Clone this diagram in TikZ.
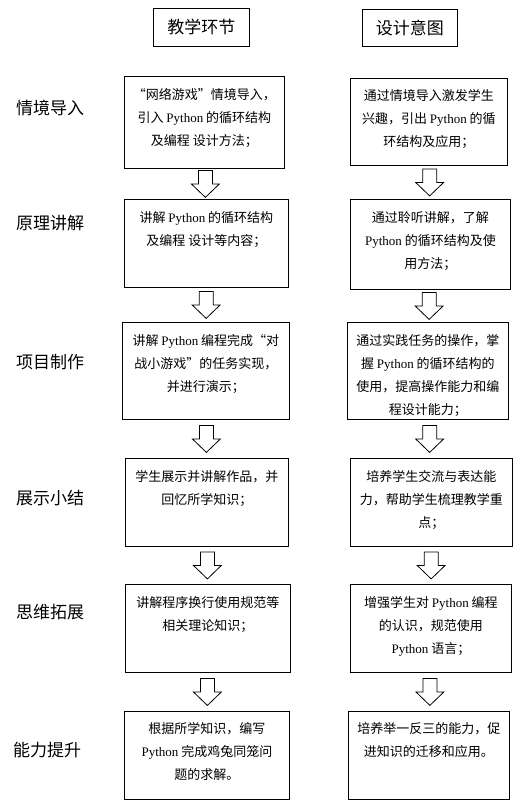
\documentclass[tikz,border=0pt]{standalone}
\usepackage{fontspec}
\setmainfont{Noto Sans CJK SC}
\newfontfamily\latfont{Liberation Serif}
\usetikzlibrary{calc}
\newcommand{\Py}{{\latfont Python}}
\tikzset{
  box/.style={draw, line width=0.8pt, inner sep=0pt, anchor=north west, fill=white},
  txt/.style={font=\fontsize{13}{23}\selectfont, align=center, inner sep=0pt, anchor=north},
  stage/.style={font=\fontsize{17}{20}\selectfont, anchor=west, inner sep=0pt},
  headbox/.style={draw, line width=0.8pt, font=\fontsize{17}{20}\selectfont, inner sep=0pt, anchor=north west},
  blockarrow/.pic={\draw[line width=0.8pt, fill=white] (-7,-13.5) -- (-7,0) -- (-14,0) -- (0,13.5) -- (14,0) -- (7,0) -- (7,-13.5) -- cycle;}
}
\begin{document}
\begin{tikzpicture}[x=1pt,y=-1pt]
\useasboundingbox (0,0) rectangle (526,807);
% headers
\node[headbox, minimum width=96pt, minimum height=38pt] (h1) at (153,8) {教学环节};
\node[headbox, minimum width=95pt, minimum height=37pt] (h2) at (362,9) {设计意图};
% stage labels
\node[stage] (s1) at (16,108) {情境导入};
\node[stage] (s2) at (16,223) {原理讲解};
\node[stage] (s3) at (16,362) {项目制作};
\node[stage] (s4) at (16,498) {展示小结};
\node[stage] (s5) at (16,612) {思维拓展};
\node[stage] (s6) at (13,750) {能力提升};
% left boxes
\node[box, minimum width=160pt, minimum height=92pt] (l1) at (124,76) {};
\node[box, minimum width=164pt, minimum height=88pt] (l2) at (124,199) {};
\node[box, minimum width=167pt, minimum height=97pt] (l3) at (122,322) {};
\node[box, minimum width=163pt, minimum height=88pt] (l4) at (125,458) {};
\node[box, minimum width=165pt, minimum height=88pt] (l5) at (125,584) {};
\node[box, minimum width=165pt, minimum height=88pt] (l6) at (124,711) {};
% right boxes
\node[box, minimum width=157pt, minimum height=87pt] (r1) at (350,78) {};
\node[box, minimum width=160pt, minimum height=90pt] (r2) at (350,199) {};
\node[box, minimum width=161pt, minimum height=97pt] (r3) at (347,322) {};
\node[box, minimum width=162pt, minimum height=88pt] (r4) at (350,458) {};
\node[box, minimum width=161pt, minimum height=88pt] (r5) at (350,584) {};
\node[box, minimum width=161pt, minimum height=88pt] (r6) at (348,711) {};
% texts
\node[txt] (l1t) at ([yshift=-12pt]l1.north) {“网络游戏”情境导入，\\引入 \Py{} 的循环结构\\及编程 设计方法；};
\node[txt] (l2t) at ([yshift=-12pt]l2.north) {讲解 \Py{} 的循环结构\\及编程 设计等内容；};
\node[txt] (l3t) at ([yshift=-12pt]l3.north) {讲解 \Py{} 编程完成“对\\战小游戏”的任务实现，\\并进行演示；};
\node[txt] (l4t) at ([yshift=-12pt]l4.north) {学生展示并讲解作品，并\\回忆所学知识；};
\node[txt] (l5t) at ([yshift=-12pt]l5.north) {讲解程序换行使用规范等\\相关理论知识；};
\node[txt] (l6t) at ([yshift=-11pt]l6.north) {根据所学知识，编写\\\Py{} 完成鸡兔同笼问\\题的求解。};
\node[txt] (r1t) at ([yshift=-11pt]r1.north) {通过情境导入激发学生\\兴趣，引出 \Py{} 的循\\环结构及应用；};
\node[txt] (r2t) at ([yshift=-12pt]r2.north) {通过聆听讲解，了解\\\Py{} 的循环结构及使\\用方法；};
\node[txt] (r3t) at ([yshift=-12pt]r3.north) {通过实践任务的操作，掌\\握 \Py{} 的循环结构的\\使用，提高操作能力和编\\程设计能力；};
\node[txt] (r4t) at ([yshift=-12pt]r4.north) {培养学生交流与表达能\\力，帮助学生梳理教学重\\点；};
\node[txt] (r5t) at ([yshift=-12pt]r5.north) {增强学生对 \Py{} 编程\\的认识，规范使用\\\Py{} 语言；};
\node[txt] (r6t) at ([yshift=-11pt]r6.north) {培养举一反三的能力，促\\进知识的迁移和应用。};
% block arrows
\foreach \a/\b in {l1/l2,l2/l3,l3/l4,l4/l5,l5/l6,r1/r2,r2/r3,r3/r4,r4/r5,r5/r6}{
  \pic at ($(\a.south)!0.5!(\b.north)$) {blockarrow};
}
\end{tikzpicture}
\end{document}
